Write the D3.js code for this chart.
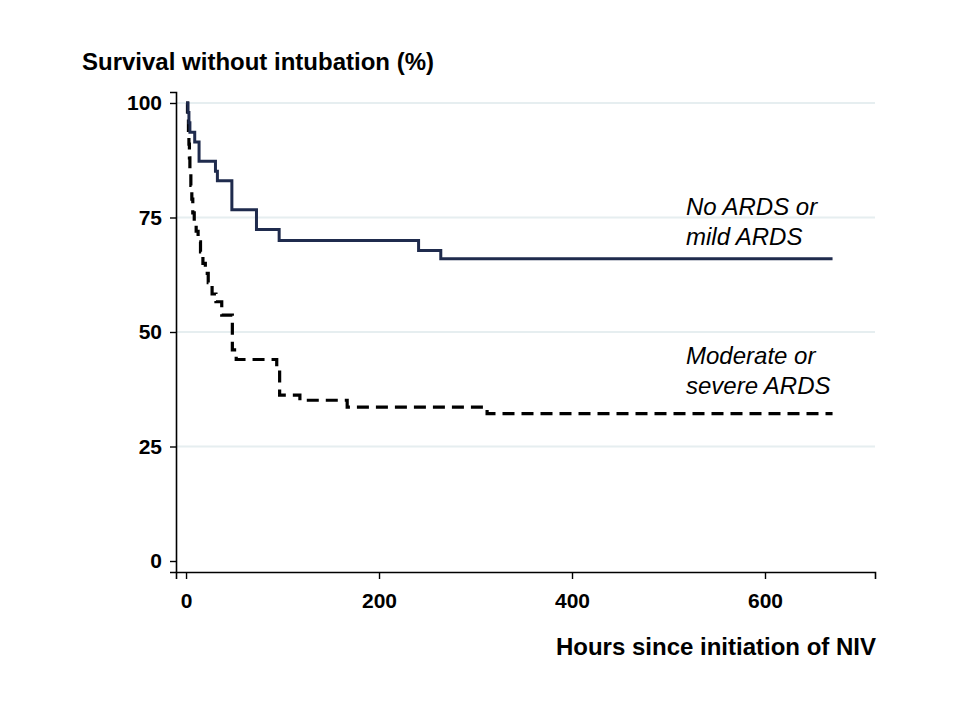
<!DOCTYPE html>
<html>
<head>
<meta charset="utf-8">
<script src="https://cdn.jsdelivr.net/npm/d3@7"></script>
<style>
  body { margin: 0; background: #fff; }
  text { font-family: "Liberation Sans", Arial, sans-serif; }
</style>
</head>
<body>
<svg id="chart" width="960" height="720"></svg>
<script>
// ---- data ----
const yTicks = [0, 25, 50, 75, 100];
const xTicks = [0, 200, 400, 600];
const endHour = 670;

// No ARDS or mild ARDS: [hour, survival %] after each step
const mildHours  = [0, 2, 3, 4, 9, 13.5, 30.5, 32.5, 47.5, 73, 96.5, 241, 264];
const mildValues = [100, 97.9, 95.7, 93.6, 91.5, 87.3, 85.1, 83.0, 76.7, 72.4, 70.0, 67.8, 66.0];

// Moderate or severe ARDS
const sevHours  = [0, 1.5, 2.5, 3, 3.5, 4, 5, 6, 7, 8.5, 10.5, 12.5, 15, 17.5, 20, 23, 27, 31, 37, 48, 52, 94, 97, 118, 167, 312];
const sevValues = [100, 97, 94, 91, 88, 85, 82, 79, 76, 74, 72, 69.7, 67.5, 65, 62.8, 60.8, 58.3, 56.6, 53.7, 46.1, 44.0, 42.5, 36.2, 35.1, 33.6, 32.2];

const labels = {
  mild: ["No ARDS or", "mild ARDS"],
  sev: ["Moderate or", "severe ARDS"]
};

// ---- drawing ----
const svg = d3.select("#chart");
const x = d3.scaleLinear().domain([-10.4, 714]).range([176, 875]);
const y = d3.scaleLinear().domain([-2.4, 102.4]).range([572, 92]);

// gridlines
svg.append("g").selectAll("line").data(yTicks.filter(d => d > 0)).join("line")
  .attr("x1", 176).attr("x2", 875)
  .attr("y1", d => y(d)).attr("y2", d => y(d))
  .attr("stroke", "#e6eef0").attr("stroke-width", 2);

// axes
const yAxis = d3.axisLeft(y).tickValues(yTicks).tickSize(6).tickPadding(8);
const xAxis = d3.axisBottom(x).tickValues(xTicks).tickSize(7).tickPadding(14);

const gy = svg.append("g").attr("transform", "translate(176,0)").call(yAxis);
const gx = svg.append("g").attr("transform", "translate(0,572)").call(xAxis);
[gy, gx].forEach(g => {
  g.select(".domain").attr("stroke", "#000").attr("stroke-width", 1.6);
  g.selectAll(".tick line").attr("stroke", "#000").attr("stroke-width", 1.4);
  g.selectAll(".tick text")
    .attr("fill", "#000")
    .style("font-family", "'Liberation Sans', Arial, sans-serif")
    .style("font-size", "21px").style("font-weight", "bold");
});

// step lines
function stepData(hours, values) {
  const pts = hours.map((h, i) => [h, values[i]]);
  pts.push([endHour, values[values.length - 1]]);
  return pts;
}
const line = d3.line().x(d => x(d[0])).y(d => y(d[1])).curve(d3.curveStepAfter);

svg.append("path").datum(stepData(sevHours, sevValues))
  .attr("d", line).attr("fill", "none")
  .attr("stroke", "#000").attr("stroke-width", 3.2)
  .attr("stroke-dasharray", "12,7");

svg.append("path").datum(stepData(mildHours, mildValues))
  .attr("d", line).attr("fill", "none")
  .attr("stroke", "#1f2b4d").attr("stroke-width", 3);

// curve labels
function addLabel(lines, x0, y0) {
  svg.append("text").attr("x", x0).attr("y", y0)
    .style("font-size", "24px").style("font-style", "italic").attr("fill", "#000")
    .selectAll("tspan").data(lines).join("tspan")
    .attr("x", x0).attr("dy", (d, i) => i === 0 ? 0 : 30).text(d => d);
}
addLabel(labels.mild, 686, 215);
addLabel(labels.sev, 686, 364);

// axis titles
svg.append("text").attr("x", 82).attr("y", 70)
  .style("font-size", "24px").style("font-weight", "bold").attr("fill", "#000")
  .text("Survival without intubation (%)");
svg.append("text").attr("x", 876).attr("y", 655).attr("text-anchor", "end")
  .style("font-size", "24px").style("font-weight", "bold").attr("fill", "#000")
  .text("Hours since initiation of NIV");
</script>
</body>
</html>
